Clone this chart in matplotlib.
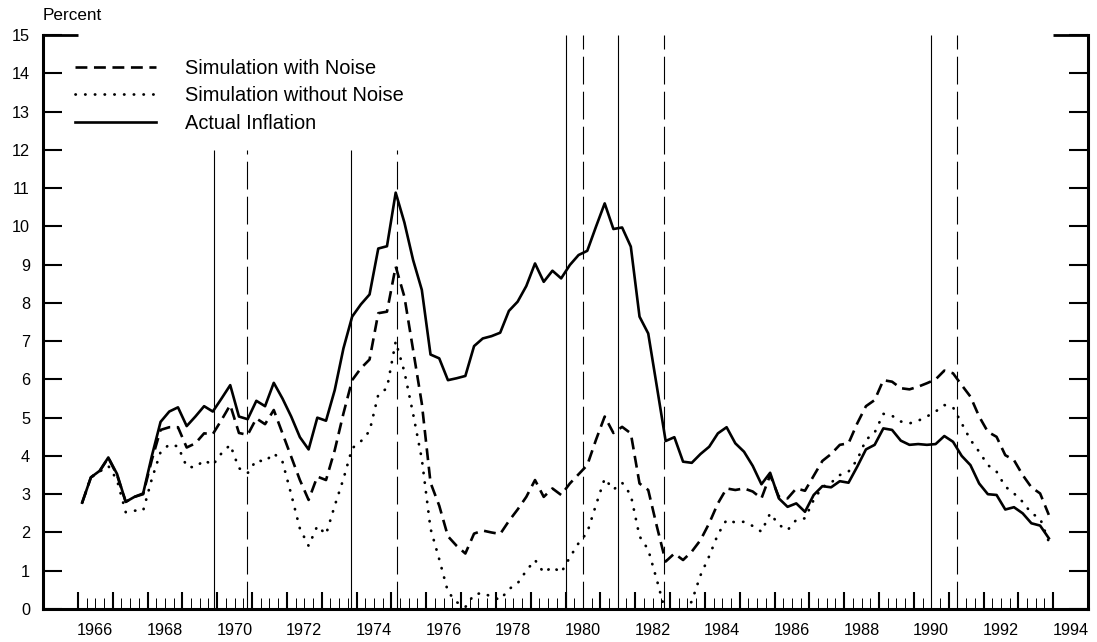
import matplotlib
matplotlib.use("Agg")
import matplotlib.pyplot as plt
from matplotlib.ticker import FixedLocator, NullFormatter
import numpy as np

plt.rcParams['font.family'] = ['Liberation Sans', 'DejaVu Sans']

# quarterly data, 1966Q1 .. 1993Q4
start_year = 1966
actual = [2.78, 3.44, 3.61, 3.96, 3.53, 2.80, 2.93, 3.02, 4.00, 4.89,
          5.16, 5.27, 4.78, 5.03, 5.30, 5.16, 5.50, 5.85, 5.03, 4.96,
          5.44, 5.30, 5.91, 5.50, 5.03, 4.49, 4.17, 5.00, 4.92, 5.72,
          6.81, 7.64, 7.96, 8.22, 9.42, 9.48, 10.88, 10.10, 9.12, 8.34,
          6.65, 6.55, 5.98, 6.03, 6.09, 6.87, 7.07, 7.13, 7.22, 7.79,
          8.03, 8.44, 9.03, 8.55, 8.84, 8.64, 8.99, 9.25, 9.36, 9.99,
          10.60, 9.93, 9.97, 9.47, 7.64, 7.20, 5.80, 4.39, 4.49, 3.85,
          3.82, 4.05, 4.24, 4.59, 4.75, 4.33, 4.11, 3.74, 3.26, 3.56,
          2.89, 2.67, 2.76, 2.54, 2.98, 3.21, 3.18, 3.34, 3.30, 3.72,
          4.17, 4.29, 4.72, 4.68, 4.40, 4.29, 4.31, 4.29, 4.31, 4.52,
          4.37, 4.00, 3.76, 3.28, 3.00, 2.98, 2.60, 2.66, 2.50, 2.24,
          2.18, 1.85]
with_noise = [2.78, 3.44, 3.60, 3.95, 3.50, 2.80, 2.93, 3.00, 3.90, 4.68,
              4.75, 4.75, 4.22, 4.33, 4.59, 4.57, 4.94, 5.33, 4.60, 4.55,
              4.98, 4.83, 5.20, 4.59, 3.98, 3.37, 2.85, 3.46, 3.37, 4.15,
              5.11, 5.98, 6.29, 6.52, 7.73, 7.77, 8.95, 8.16, 6.77, 5.37,
              3.30, 2.70, 1.90, 1.65, 1.45, 1.97, 2.05, 2.00, 1.96, 2.30,
              2.60, 2.93, 3.37, 2.93, 3.15, 2.98, 3.28, 3.52, 3.76, 4.42,
              5.03, 4.60, 4.76, 4.59, 3.28, 3.11, 2.15, 1.24, 1.45, 1.28,
              1.50, 1.80, 2.24, 2.76, 3.15, 3.11, 3.15, 3.07, 2.89, 3.50,
              2.93, 2.89, 3.15, 3.09, 3.48, 3.87, 4.05, 4.29, 4.33, 4.85,
              5.30, 5.46, 5.98, 5.94, 5.77, 5.74, 5.81, 5.90, 6.00, 6.23,
              6.16, 5.85, 5.55, 5.03, 4.63, 4.50, 4.02, 3.89, 3.50, 3.18,
              3.02, 2.46]
without_noise = [2.78, 3.44, 3.59, 3.74, 3.37, 2.53, 2.57, 2.57, 3.40, 4.10,
                 4.30, 4.25, 3.72, 3.70, 3.89, 3.76, 4.07, 4.29, 3.68, 3.55,
                 3.89, 3.85, 4.07, 3.85, 3.00, 2.10, 1.65, 2.17, 1.95, 2.70,
                 3.40, 4.20, 4.38, 4.65, 5.60, 5.77, 6.99, 6.20, 5.10, 3.92,
                 2.10, 1.30, 0.45, 0.18, 0.05, 0.38, 0.42, 0.32, 0.24, 0.52,
                 0.67, 1.00, 1.28, 0.95, 1.10, 0.95, 1.35, 1.72, 2.00, 2.72,
                 3.41, 3.12, 3.30, 2.98, 1.90, 1.55, 0.75, -0.10, -0.30, -0.15,
                 0.20, 0.88, 1.38, 1.95, 2.33, 2.26, 2.28, 2.17, 2.02, 2.50,
                 2.20, 2.06, 2.33, 2.37, 2.85, 3.19, 3.30, 3.50, 3.59, 3.90,
                 4.42, 4.61, 5.10, 5.05, 4.90, 4.85, 4.92, 5.03, 5.16, 5.33,
                 5.27, 4.85, 4.42, 4.11, 3.76, 3.59, 3.20, 3.02, 2.80, 2.50,
                 2.37, 1.76]

# business cycle peaks (solid) and troughs (dashed)
peaks = [1969.92, 1973.83, 1980.02, 1981.50, 1990.50]
troughs = [1970.85, 1975.17, 1980.51, 1982.83, 1991.25]
label_years = list(range(1966, 1995, 2))

t = start_year + 0.125 + 0.25 * np.arange(len(actual))

fig = plt.figure(figsize=(10.97, 6.42), dpi=100)
ax = fig.add_axes([43 / 1097, 33 / 642, 1045 / 1097, 574 / 642])

# recession lines: the early ones stop below the legend
for x in peaks:
    top = 12 if x < 1976 else 15
    ax.vlines(x, 0, top, colors='black', linewidth=0.8)
for x in troughs:
    top = 12 if x < 1976 else 15
    ax.vlines(x, 0, top, colors='black', linewidth=0.8,
              linestyles=[(0, (25, 6.5))])

ax.plot(t, with_noise, color='black', lw=1.9, ls=(0, (4.5, 2.5)),
        label='Simulation with Noise')
ax.plot(t, without_noise, color='black', lw=2.0, ls=(0, (0.1, 3.4)),
        dash_capstyle='round', label='Simulation without Noise')
ax.plot(t, actual, color='black', lw=1.9, label='Actual Inflation')

ax.set_xlim(1965, 1995)
ax.set_ylim(0, 15)

for s in ['left', 'right', 'bottom']:
    ax.spines[s].set_linewidth(2.2)
ax.spines['top'].set_visible(False)

# long ticks at 15 on both sides
ax.hlines(15, 1965, 1966, colors='black', lw=2.0, clip_on=False)
ax.hlines(15, 1994, 1995, colors='black', lw=2.0, clip_on=False)

ax.set_yticks(range(16))
ax.tick_params(axis='y', direction='in', length=13.7, width=1.5,
               left=True, right=True, labelsize=11.7, pad=9.4)

ax.xaxis.set_major_locator(FixedLocator(range(1966, 1995)))
ax.xaxis.set_minor_locator(FixedLocator(
    [y + q for y in range(1966, 1994) for q in (0.25, 0.5, 0.75)]))
ax.xaxis.set_major_formatter(NullFormatter())
ax.tick_params(axis='x', which='major', direction='in', length=12.2,
               width=1.5, top=False)
ax.tick_params(axis='x', which='minor', direction='in', length=7.9,
               width=0.7, top=False)

sec = ax.secondary_xaxis('bottom')
sec.set_xticks([y + 0.5 for y in label_years],
               labels=[str(y) for y in label_years])
sec.tick_params(length=0, pad=10, labelsize=11.7)
sec.spines['bottom'].set_visible(False)

fig.text(43 / 1097, 1 - 15 / 642, 'Percent', ha='left', va='center',
         fontsize=12.3)

ax.legend(loc='upper left', bbox_to_anchor=(75 / 1097, 1 - 59 / 642),
          bbox_transform=fig.transFigure, frameon=False, fontsize=14.4,
          handlelength=4.05, handletextpad=1.45, labelspacing=0.42,
          borderpad=0, borderaxespad=0)

fig.savefig('out.png', dpi=100)
